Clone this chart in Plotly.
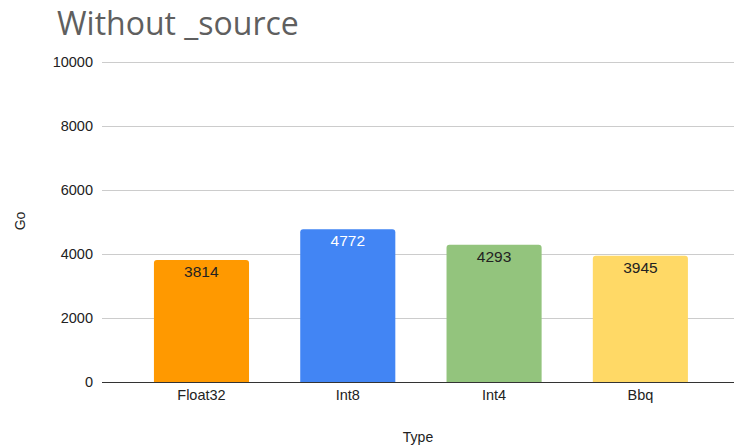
import plotly.graph_objects as go

categories = ["Float32", "Int8", "Int4", "Bbq"]
values = [3814, 4772, 4293, 3945]
bar_colors = ["#FF9900", "#4285F4", "#93C47D", "#FFD966"]
label_colors = ["#222222", "#FFFFFF", "#222222", "#222222"]
y_ticks = [0, 2000, 4000, 6000, 8000, 10000]
y_tick_labels = ["0", "2000", "4000", "6000", "8000", "10000"]

FONT = "Liberation Sans, Arial"

fig = go.Figure(go.Bar(
    x=categories,
    y=values,
    marker=dict(color=bar_colors, line=dict(width=0), cornerradius=3),
    width=0.65,
    text=[str(v) for v in values],
    textposition="inside",
    insidetextanchor="end",
    textangle=0,
    textfont=dict(family=FONT, size=15.5, color=label_colors),
    cliponaxis=False,
))

fig.update_layout(
    width=734, height=445,
    margin=dict(l=102, r=0, t=60, b=63),
    paper_bgcolor="white",
    plot_bgcolor="white",
    showlegend=False,
    title=dict(
        text="Without _source",
        x=57 / 734, xanchor="left",
        y=1 - 24 / 445, yanchor="middle",
        font=dict(family="Open Sans", size=32, color="#5f5f5f"),
    ),
    xaxis=dict(
        range=[-0.68, 3.64],
        showgrid=False,
        showline=True, linecolor="#333333", linewidth=1,
        ticks="",
        tickfont=dict(family=FONT, size=14.5, color="#222222"),
        title=dict(text="Type", font=dict(family=FONT, size=14, color="#222222"), standoff=30),
        fixedrange=True,
    ),
    yaxis=dict(
        range=[0, 10065],
        tickvals=y_ticks,
        ticktext=y_tick_labels,
        showgrid=True, gridcolor="#cccccc", gridwidth=1,
        zeroline=False,
        ticks="",
        ticklabelstandoff=8,
        tickfont=dict(family=FONT, size=14.5, color="#222222"),
        title=dict(text="Go", font=dict(family=FONT, size=14, color="#222222"), standoff=23),
    ),
)

fig.write_html("out.html")
